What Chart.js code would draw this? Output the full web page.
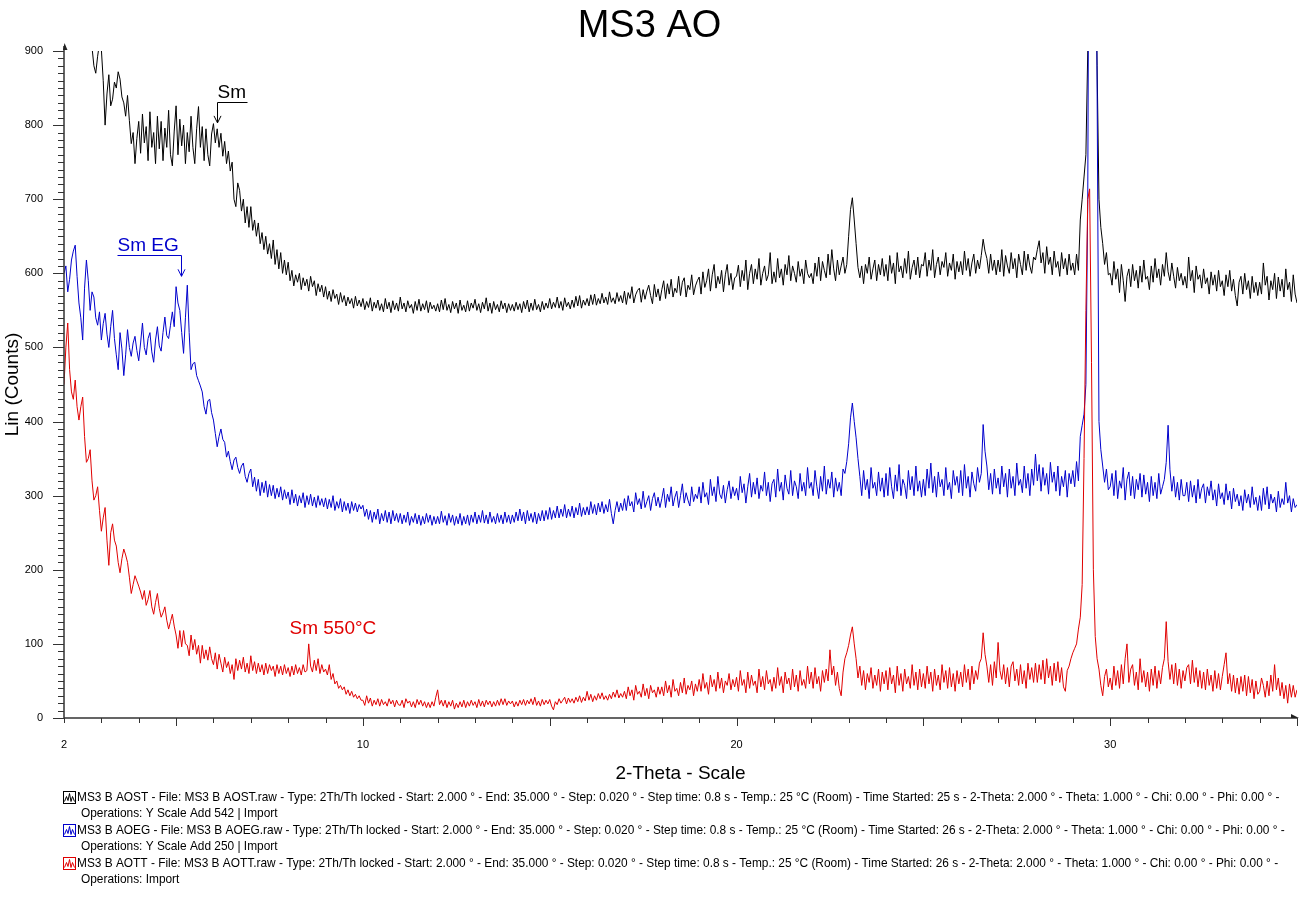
<!DOCTYPE html>
<html>
<head>
<meta charset="utf-8">
<script src="https://cdn.jsdelivr.net/npm/chart.js@4.4.1/dist/chart.umd.min.js"></script>
<style>
html,body{margin:0;padding:0;background:#fff;}
#wrap{width:1299px;height:918px;position:relative;overflow:hidden;}
canvas{display:block;}
</style>
</head>
<body>
<div id="wrap"><canvas id="c" width="1299" height="918"></canvas></div>
<script>
// ---------------- data ----------------
const THETA_START = 2.0;   // scan start (deg 2θ)
const THETA_STEP = 0.05;   // sampling of the traced curves (deg)
const xTickLabels = [2, 10, 20, 30];
const yTickLabels = [0, 100, 200, 300, 400, 500, 600, 700, 800, 900];
const seriesNames = ['MS3 B AOST', 'MS3 B AOEG', 'MS3 B AOTT'];
const timeStarted = ['25 s', '26 s', '26 s'];
const operations = ['Y Scale Add 542 | Import', 'Y Scale Add 250 | Import', 'Import'];

// MS3 B AOST (black, +542) — one row per degree, 2θ = 2 ... 35
const aost = [
1010,995,985,1005,1000,975,965,990,975,950,945,965,950,930,915,905,880,870,893,910,
902,860,800,842,868,826,835,858,850,872,862,838,830,812,840,806,775,790,748,782,
805,762,815,776,798,752,818,770,790,748,812,768,805,752,796,770,820,760,745,792,
826,760,808,772,800,748,790,764,812,770,748,795,825,770,798,752,795,760,745,788,
802,776,795,770,789,758,778,748,765,738,750,700,690,722,712,684,700,668,690,662,
690,658,672,650,668,640,655,632,650,626,640,620,645,612,632,606,628,600,618,598,
615,590,604,583,598,588,600,578,594,583,592,576,596,582,590,570,586,575,584,568,
582,565,576,562,578,566,572,558,574,561,570,556,568,559,566,553,569,556,564,555,
566,551,562,554,567,549,561,553,564,550,559,548,566,552,561,547,563,551,560,549,
568,552,560,548,563,553,558,546,562,550,565,549,559,551,563,547,561,552,557,549,
559,548,564,551,566,550,558,547,562,552,560,546,564,550,557,548,563,549,560,553,
565,550,559,547,561,552,567,549,560,546,562,551,558,548,563,552,560,547,559,550,
558,549,561,551,559,547,562,552,564,548,560,550,565,551,558,548,562,551,560,553,
566,552,561,554,568,553,562,550,567,555,561,552,564,554,569,556,570,553,564,557,
566,556,571,558,572,557,566,559,573,560,568,558,575,561,567,559,574,562,570,560,
576,558,574,566,582,560,571,577,580,561,578,565,576,584,570,559,585,568,579,563,
578,590,566,586,572,592,568,580,574,596,570,588,594,568,584,578,598,571,583,590,
595,572,602,581,590,606,576,598,612,580,596,586,604,575,598,612,584,600,578,594,
596,611,582,604,590,618,578,600,612,586,606,592,620,584,600,610,590,598,628,586,
602,588,620,594,606,584,612,598,624,590,610,600,588,616,596,606,586,618,600,594,
600,586,614,596,622,590,616,604,594,626,598,632,606,590,618,598,610,622,600,612,
650,686,702,672,640,608,594,610,586,612,600,622,592,606,618,590,612,598,620,596,
612,590,624,600,614,586,628,602,610,594,620,600,630,592,608,618,598,622,594,612,
610,628,596,618,604,632,594,612,622,598,616,608,628,596,614,604,626,592,616,602,
616,598,630,604,620,596,614,626,600,618,606,624,646,630,620,600,626,604,618,598,
618,602,632,596,624,610,600,628,606,620,594,626,612,598,630,604,626,610,600,622,
618,632,644,614,628,600,636,612,622,598,630,608,616,596,628,606,620,598,626,604,
614,598,626,604,672,700,730,760,900,1350,1500,1300,1050,880,700,662,640,612,628,598,
600,584,616,592,606,574,612,590,562,596,606,582,612,590,604,580,610,588,618,592,
596,578,610,588,620,594,606,584,612,596,628,602,590,614,596,580,608,590,600,584,
596,580,622,590,604,574,610,592,598,580,606,586,594,572,602,584,598,576,604,582,
590,570,598,582,604,576,592,570,556,588,596,572,600,578,590,566,596,574,588,570,
588,572,614,584,596,564,590,578,600,566,595,576,592,568,606,578,588,562,598,572,
560];

// MS3 B AOEG (blue, +250)
const aoeg = [
600,610,575,592,618,630,638,596,560,540,510,580,618,590,550,575,568,540,530,548,
510,532,546,518,500,528,550,512,490,470,520,498,462,490,524,500,488,506,515,496,
482,506,533,500,490,512,520,494,480,510,528,502,495,520,541,516,512,530,548,528,
582,560,550,520,492,540,584,520,470,478,480,462,455,448,440,420,410,428,430,412,
402,384,366,380,390,376,372,352,360,346,335,348,352,338,330,340,344,326,318,330,
336,312,325,306,322,300,318,304,320,298,315,300,314,296,310,298,312,294,308,296,
305,288,308,290,302,286,300,290,304,284,300,288,302,286,298,284,300,287,296,285,
297,282,295,284,300,280,292,283,296,278,292,280,290,276,292,280,290,278,288,282,
287,272,282,268,280,264,278,268,282,262,276,266,280,264,278,262,280,266,276,264,
276,262,274,264,278,260,272,264,276,262,274,260,272,262,276,264,274,260,272,262,
272,262,279,264,273,260,276,264,274,260,272,262,276,260,272,262,274,260,274,264,
278,262,274,264,280,263,274,262,278,264,272,262,276,264,274,262,278,264,274,262,
274,264,278,266,282,266,278,262,280,266,276,264,278,262,276,266,280,266,280,268,
284,268,280,270,286,270,282,272,288,270,282,272,286,270,284,274,290,272,284,274,
285,274,292,276,288,274,290,278,292,276,288,278,295,276,262,280,292,278,290,280,
296,280,300,286,292,278,304,288,296,282,306,284,292,300,280,296,304,286,298,284,
296,310,284,302,292,312,286,298,306,284,300,316,290,304,294,286,312,292,302,296,
312,290,318,298,304,288,322,300,312,292,326,302,296,314,290,308,320,296,312,300,
310,294,326,304,316,290,312,330,298,318,302,324,296,314,306,332,300,318,292,316,
322,298,336,306,318,294,328,310,302,334,300,320,312,296,330,306,318,300,338,310,
318,300,334,312,296,326,306,340,302,322,310,332,298,324,306,318,300,336,330,346,
370,405,425,400,378,350,326,300,334,308,322,296,338,310,318,300,332,306,324,298,
330,300,338,312,296,328,306,342,300,322,314,296,334,308,326,300,340,306,320,298,
322,300,336,310,344,304,326,298,332,312,322,300,338,308,318,296,334,314,326,304,
334,300,342,310,326,298,332,316,306,338,318,330,396,360,340,308,330,302,336,310,
324,302,340,312,330,298,336,310,326,300,344,314,322,304,340,310,330,300,336,314,
356,320,342,306,338,314,330,302,345,318,332,306,340,300,326,312,334,298,330,316,
334,312,346,320,380,395,410,450,700,1400,1500,1350,1300,850,400,362,340,318,336,308,
312,330,300,334,296,320,310,338,294,322,332,300,326,296,322,308,330,298,328,302,
318,292,326,300,318,296,330,302,312,322,345,395,335,306,326,298,318,294,322,300,
300,318,292,320,298,314,290,322,296,310,316,290,312,300,320,294,308,286,316,296,
304,288,316,294,306,282,310,292,302,286,300,280,308,290,302,284,312,288,298,280,
300,280,310,288,312,282,302,290,298,278,306,284,296,288,318,290,300,278,296,284,
288];

// MS3 B AOTT (red)
const aott = [
450,500,533,470,440,430,456,420,402,420,433,380,345,350,362,320,294,300,312,280,
252,270,284,240,206,250,262,240,232,210,196,215,228,220,210,190,168,180,192,185,
178,170,160,172,152,160,172,150,140,156,168,148,136,142,150,132,120,130,140,124,
112,94,118,96,118,100,98,84,112,92,106,86,98,74,98,80,92,78,96,80,
72,88,66,86,74,62,82,68,76,60,72,52,80,64,78,66,82,62,74,60,
84,64,76,60,74,62,72,58,74,60,72,64,70,56,72,60,70,58,72,60,
68,56,70,58,72,60,68,58,72,62,64,100,70,62,78,64,80,60,72,62,
66,58,72,52,60,46,50,40,44,38,42,32,38,30,36,28,32,26,30,24,
24,17,30,20,27,16,24,18,26,16,25,18,22,16,26,19,24,15,24,18,
17,24,14,26,20,23,15,22,14,25,18,24,16,22,14,21,14,22,16,28,
38,18,24,16,24,14,22,16,24,12,20,14,22,15,24,14,22,16,24,17,
22,14,25,16,23,15,24,18,23,15,22,16,24,17,26,18,26,17,23,19,
23,15,22,16,24,18,25,17,24,19,26,18,28,17,23,16,25,18,24,19,
25,16,11,22,18,26,20,24,28,19,27,21,26,20,28,22,30,21,28,23,
36,24,32,22,30,24,33,26,34,25,30,24,32,26,35,28,38,27,33,28,
36,26,42,30,38,24,44,32,36,28,46,30,40,26,44,34,38,28,42,32,
42,30,50,34,44,28,52,36,40,30,48,34,54,32,44,38,50,30,46,36,
52,36,60,40,48,32,58,42,52,36,62,40,54,34,50,44,60,38,52,42,
55,36,64,44,52,34,62,40,58,44,50,34,66,42,56,38,64,46,52,36,
55,40,68,44,56,34,62,46,54,38,66,42,58,36,64,44,52,40,70,46,
62,40,68,46,56,36,64,48,66,50,92,58,70,44,62,40,30,62,80,88,
98,112,123,100,80,54,70,44,64,38,60,48,68,40,58,44,66,36,62,46,
64,38,68,46,58,34,70,44,60,36,66,46,56,40,72,44,62,38,66,42,
60,40,70,46,62,36,66,44,58,38,72,48,64,40,68,42,60,36,64,46,
62,42,72,48,66,38,70,46,64,52,74,80,115,86,70,48,72,44,76,54,
102,64,52,72,46,68,42,70,76,50,66,44,72,46,64,40,74,52,68,48,
74,48,72,52,78,46,80,54,70,44,74,50,76,48,68,42,36,64,70,80,
88,94,100,120,136,180,350,550,700,714,480,200,110,80,66,44,30,56,66,42,
54,38,70,44,64,40,72,46,80,100,48,66,72,44,62,38,80,48,64,42,
62,36,66,44,70,40,64,46,68,80,130,76,52,72,46,74,44,66,40,64,
50,68,72,46,78,48,68,42,64,40,62,38,66,44,58,36,64,40,60,38,
56,72,88,46,60,36,58,34,54,32,56,36,58,30,56,34,52,26,50,32,
36,54,44,28,50,30,58,36,72,38,54,30,48,26,44,20,46,28,44,28,
38];

// ---------------- presentation ----------------
const FONT = '"Liberation Sans", Arial, Helvetica, sans-serif';
const COLORS = ['#000000', '#0000cc', '#e00000'];
const TITLE = 'MS3 AO';
const X_TITLE = '2-Theta - Scale';
const Y_TITLE = 'Lin (Counts)';
const ANNOTS = [
  {text: 'Sm', color: COLORS[0], x: 6.1, y: 803, arrow: true, textLeft: 0, lineLeft: 0, lineRight: 30},
  {text: 'Sm EG', color: COLORS[1], x: 5.14, y: 596, arrow: true, textLeft: -64, lineLeft: -64, lineRight: 0},
  {text: 'Sm 550°C', color: COLORS[2], x: 8.02, y: 113, arrow: false}
];

const theta = aost.map((_, i) => +(THETA_START + i * THETA_STEP).toFixed(2));
const toXY = arr => arr.map((v, i) => ({x: theta[i], y: v}));

function legendLine(i) {
  const n = seriesNames[i];
  return n + ' - File: ' + n + '.raw - Type: 2Th/Th locked - Start: 2.000 ° - End: 35.000 ° - Step: 0.020 ° - Step time: 0.8 s - Temp.: 25 °C (Room) - Time Started: ' + timeStarted[i] + ' - 2-Theta: 2.000 ° - Theta: 1.000 ° - Chi: 0.00 ° - Phi: 0.00 ° -';
}

const decor = {
  id: 'decor',
  afterDraw(chart) {
    const {ctx, chartArea: ca, scales} = chart;
    const xs = scales.x, ys = scales.y;
    ctx.save();
    // axes
    ctx.strokeStyle = '#333';
    ctx.lineWidth = 1.5;
    ctx.beginPath();
    ctx.moveTo(ca.left, ca.top - 5);
    ctx.lineTo(ca.left, ca.bottom);
    ctx.lineTo(ca.right, ca.bottom);
    ctx.stroke();
    ctx.fillStyle = '#222';
    ctx.beginPath();
    ctx.moveTo(ca.left + 0.5, ca.top - 8);
    ctx.lineTo(ca.left + 3.5, ca.top - 1);
    ctx.lineTo(ca.left - 1, ca.top - 1);
    ctx.closePath();
    ctx.fill();
    ctx.beginPath();
    ctx.moveTo(ca.right + 2, ca.bottom);
    ctx.lineTo(ca.right - 6, ca.bottom - 4);
    ctx.lineTo(ca.right - 6, ca.bottom);
    ctx.closePath();
    ctx.fill();
    // ticks
    ctx.lineWidth = 1;
    ctx.beginPath();
    for (let v = ys.min; v <= ys.max; v += 10) {
      const py = Math.round(ys.getPixelForValue(v)) + 0.5;
      const len = (v % 100 === 0) ? 11 : 6;
      ctx.moveTo(ca.left - len, py);
      ctx.lineTo(ca.left, py);
    }
    for (let v = xs.min; v <= xs.max; v += 1) {
      const px = Math.round(xs.getPixelForValue(v)) + 0.5;
      const len = (v % 5 === 0) ? 8 : 5;
      ctx.moveTo(px, ca.bottom);
      ctx.lineTo(px, ca.bottom + len);
    }
    ctx.stroke();

    // titles
    ctx.fillStyle = '#000';
    ctx.textAlign = 'center';
    ctx.textBaseline = 'alphabetic';
    ctx.font = '38px ' + FONT;
    ctx.fillText(TITLE, chart.width / 2, 37);
    ctx.font = '19px ' + FONT;
    ctx.fillText(X_TITLE, (ca.left + ca.right) / 2, 779);
    ctx.save();
    ctx.translate(18, (ca.top + ca.bottom) / 2);
    ctx.rotate(-Math.PI / 2);
    ctx.fillText(Y_TITLE, 0, 0);
    ctx.restore();

    // annotations
    ctx.textAlign = 'left';
    ctx.font = '19px ' + FONT;
    for (const a of ANNOTS) {
      const tx = Math.round(xs.getPixelForValue(a.x)) + 0.5;
      const ty = ys.getPixelForValue(a.y);
      ctx.fillStyle = a.color;
      ctx.strokeStyle = a.color;
      ctx.lineWidth = 1;
      if (a.arrow) {
        ctx.fillText(a.text, tx + a.textLeft, ty - 25);
        const ly = Math.round(ty - 21) + 0.5;
        ctx.beginPath();
        ctx.moveTo(tx + a.lineLeft, ly);
        ctx.lineTo(tx + a.lineRight, ly);
        ctx.moveTo(tx, ly);
        ctx.lineTo(tx, ty);
        ctx.moveTo(tx - 3.5, ty - 7);
        ctx.lineTo(tx, ty);
        ctx.lineTo(tx + 3.5, ty - 7);
        ctx.stroke();
      } else {
        ctx.fillText(a.text, tx, ty);
      }
    }

    // legend (text block under the chart)
    const rows = [797, 813.5, 830, 846.5, 863, 879.5];
    ctx.font = '12px ' + FONT;
    const w0 = ctx.measureText(legendLine(0)).width;
    const fs = 12 * 1204 / w0;
    ctx.font = fs.toFixed(2) + 'px ' + FONT;
    ctx.textBaseline = 'middle';
    for (let i = 0; i < 3; i++) {
      const ry = rows[i * 2];
      ctx.strokeStyle = COLORS[i];
      ctx.lineWidth = 1;
      ctx.strokeRect(63.5, ry - 5.5, 12, 12);
      ctx.beginPath();
      const pts = [[1, 10], [3, 5], [4.5, 9], [6, 2], [7.5, 10], [9, 5], [11, 10]];
      pts.forEach((p, k) => { const X = 63.5 + p[0], Y = ry - 5.5 + p[1]; k ? ctx.lineTo(X, Y) : ctx.moveTo(X, Y); });
      ctx.stroke();
      ctx.fillStyle = '#000';
      ctx.fillText(legendLine(i), 77, ry + 0.5);
      ctx.fillText('Operations: ' + operations[i], 81, rows[i * 2 + 1] + 0.5);
    }
    ctx.restore();
  }
};

new Chart(document.getElementById('c').getContext('2d'), {
  type: 'line',
  data: {
    datasets: [
      {label: seriesNames[2], data: toXY(aott), borderColor: COLORS[2], borderWidth: 1, pointRadius: 0, tension: 0, order: 0},
      {label: seriesNames[1], data: toXY(aoeg), borderColor: COLORS[1], borderWidth: 1, pointRadius: 0, tension: 0, order: 1},
      {label: seriesNames[0], data: toXY(aost), borderColor: COLORS[0], borderWidth: 1, pointRadius: 0, tension: 0, order: 2}
    ]
  },
  options: {
    responsive: false,
    animation: false,
    events: [],
    layout: {padding: {top: 51, bottom: 160, left: 0, right: 0}},
    plugins: {legend: {display: false}, title: {display: false}, tooltip: {enabled: false}},
    scales: {
      x: {
        type: 'linear', min: 2, max: 35,
        grid: {display: false, tickLength: 18}, border: {display: false},
        afterFit(s) { s.height = 40; },
        ticks: {
          stepSize: 1, autoSkip: false, maxRotation: 0, padding: 2, color: '#000',
          font: {size: 11, family: FONT},
          callback: v => xTickLabels.includes(v) ? String(v) : ''
        }
      },
      y: {
        type: 'linear', min: 0, max: 900,
        grid: {display: false}, border: {display: false},
        afterFit(s) { s.width = 64; },
        ticks: {
          stepSize: 100, padding: 13, color: '#000',
          font: {size: 11, family: FONT},
          callback: v => yTickLabels.includes(v) ? String(v) : ''
        }
      }
    }
  },
  plugins: [decor]
});
</script>
</body>
</html>
